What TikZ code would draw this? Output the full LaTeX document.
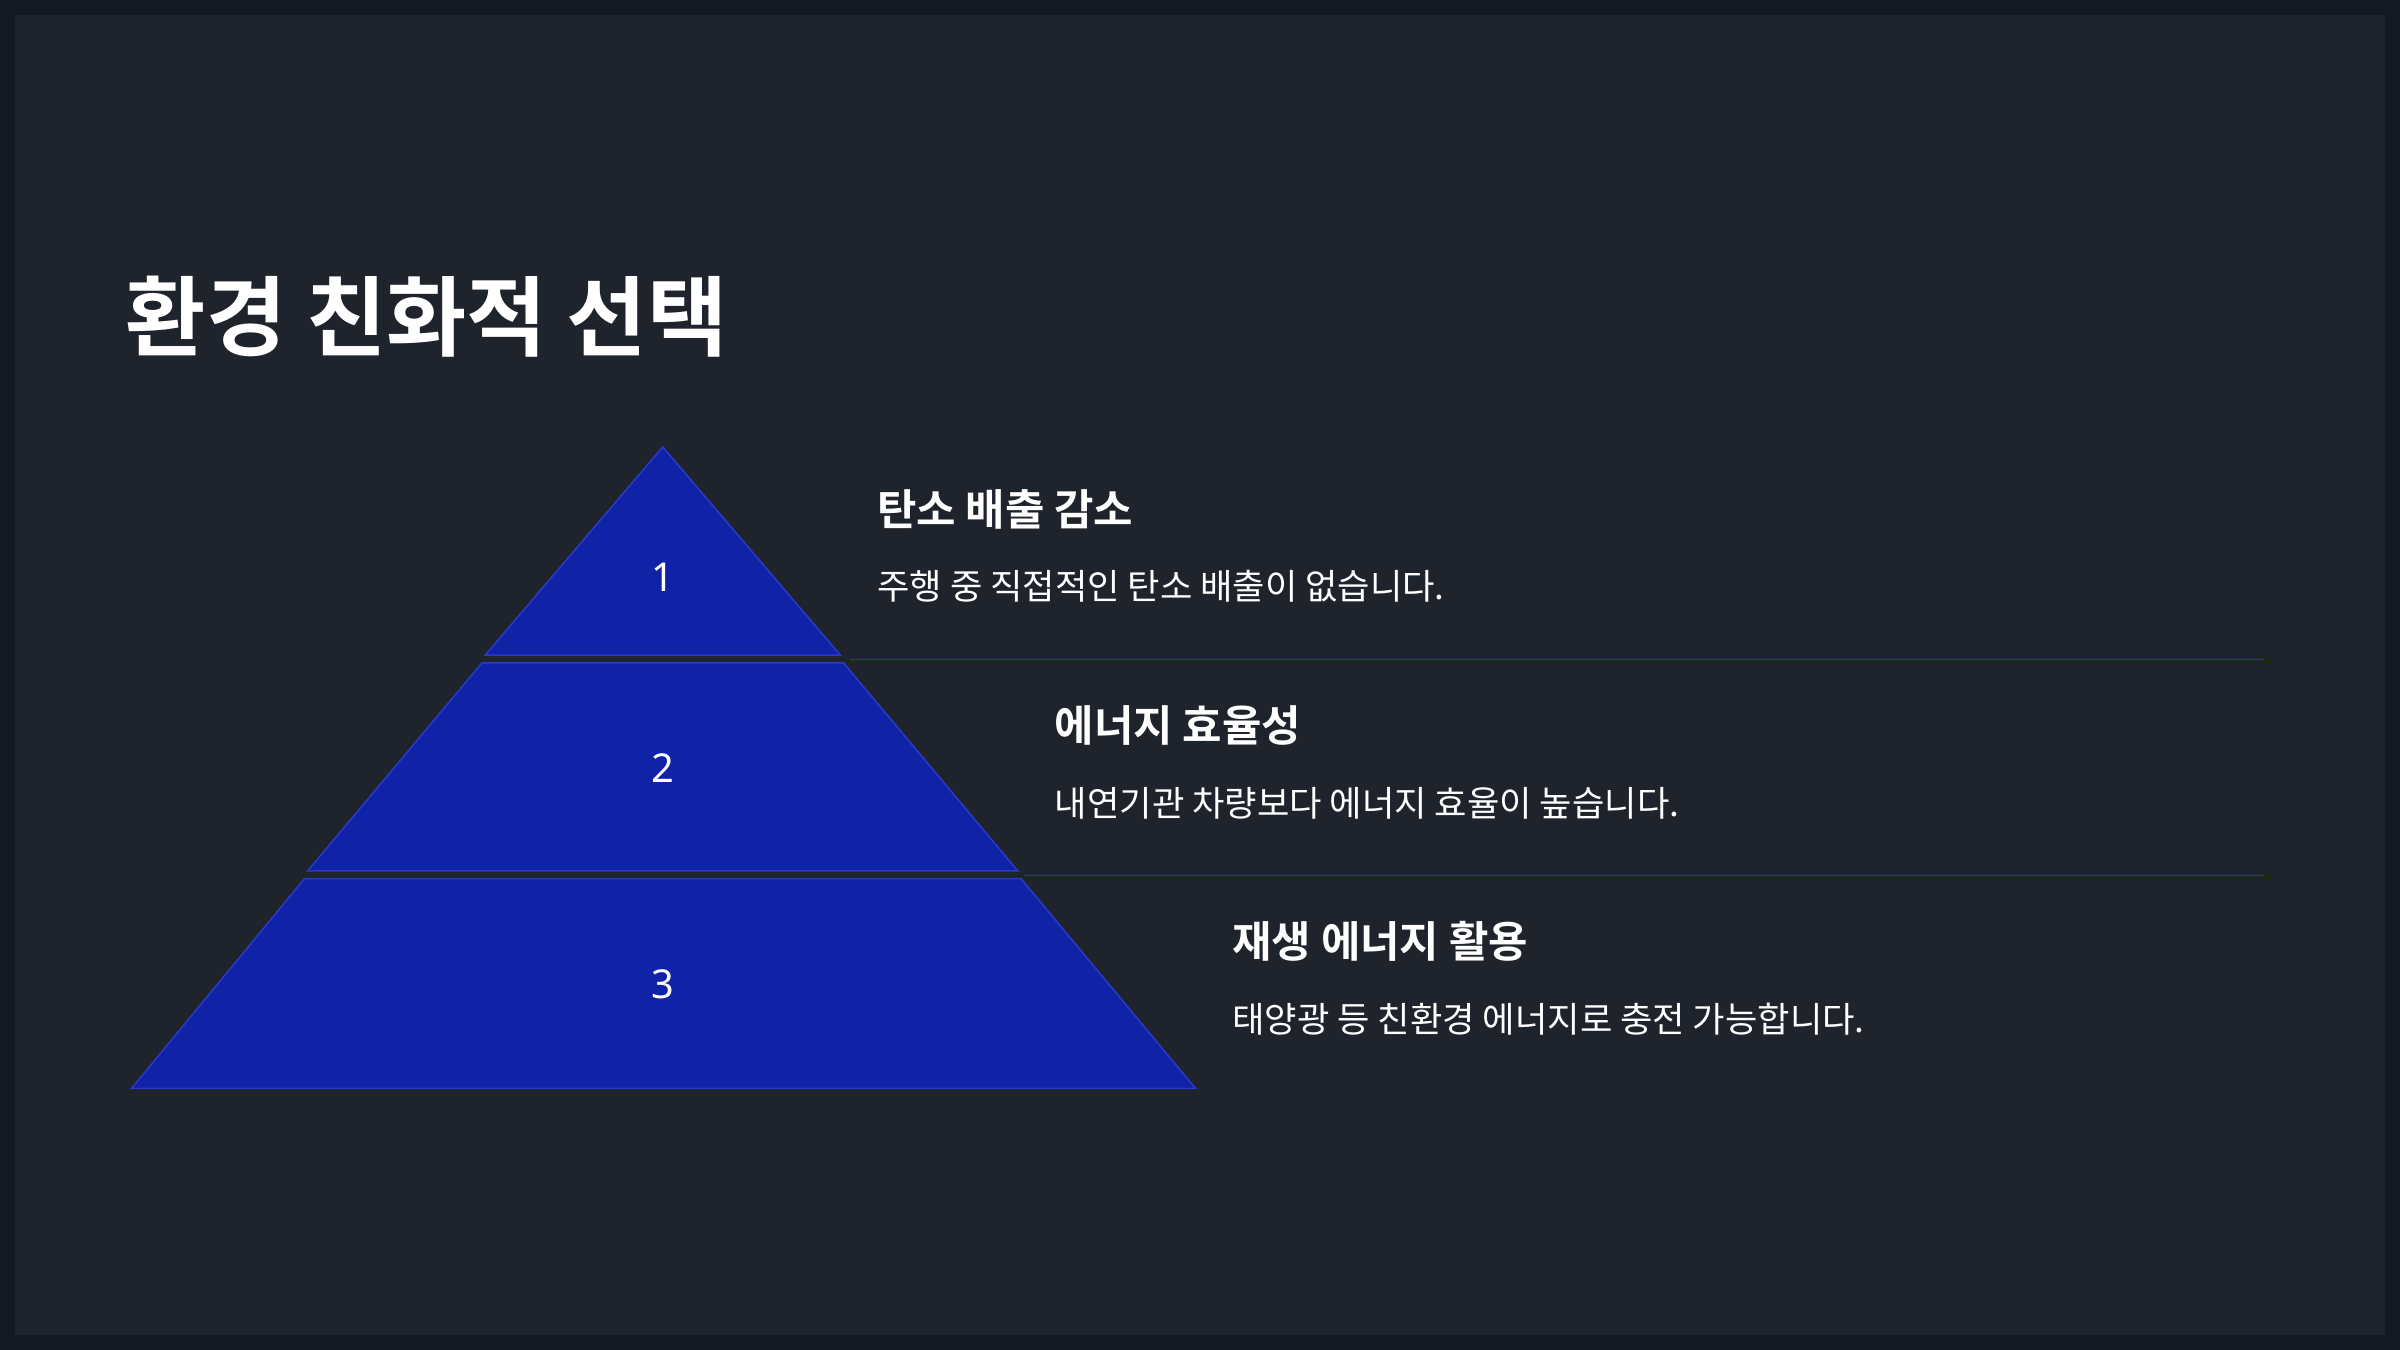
\documentclass[tikz,border=0pt]{standalone}
\usepackage{fontspec}
\setmainfont{Noto Sans CJK KR}
\newfontfamily\krb{Noto Sans CJK KR Bold}
\newfontfamily\numf{Noto Sans}
\definecolor{outerbg}{HTML}{141821}
\definecolor{innerbg}{HTML}{1F232B}
\definecolor{tierfill}{HTML}{1022A6}
\definecolor{tieredge}{HTML}{2A3AC8}
\definecolor{rule}{HTML}{2030C0}
\begin{document}
\begin{tikzpicture}[x=1pt,y=-1pt,
  tier/.style={fill=tierfill,draw=tieredge,line width=1pt},
  num/.style={text=white,font=\numf\bfseries\fontsize{26}{30}\selectfont},
  head/.style={anchor=west,text=white,font=\krb\fontsize{28}{32}\selectfont,inner sep=0},
  body/.style={anchor=west,text=white,font=\fontsize{23}{27}\selectfont,inner sep=0},
  sep/.style={draw=rule,line width=1pt}]
\fill[outerbg] (0,0) rectangle (1568,882);
\useasboundingbox (0,0) rectangle (1568,882);
\fill[innerbg] (10,10) rectangle (1558,872);
\node[anchor=west,text=white,font=\krb\fontsize{57}{64}\selectfont,inner sep=0] (title) at (82,207) {환경 친화적 선택};
\draw[tier] (433,292) -- (549,428) -- (317,428) -- cycle;
\draw[tier] (315,433) -- (551,433) -- (665,569) -- (201,569) -- cycle;
\draw[tier] (199,574) -- (667,574) -- (781,711) -- (86,711) -- cycle;
\node[num] (n1) at (433,377) {1};
\node[num] (n2) at (433,502) {2};
\node[num] (n3) at (433,643) {3};
\coordinate (l1a) at (555,431); \coordinate (l1b) at (1479,431);
\coordinate (l2a) at (669,572); \coordinate (l2b) at (1479,572);
\draw[sep] (l1a) -- (l1b);
\draw[sep] (l2a) -- (l2b);
\node[head] (h1) at (573,333) {탄소 배출 감소};
\node[body] (b1) at (573,383) {주행 중 직접적인 탄소 배출이 없습니다.};
\node[head] (h2) at (689,474) {에너지 효율성};
\node[body] (b2) at (689,525) {내연기관 차량보다 에너지 효율이 높습니다.};
\node[head] (h3) at (805,615) {재생 에너지 활용};
\node[body] (b3) at (805,666) {태양광 등 친환경 에너지로 충전 가능합니다.};
\end{tikzpicture}
\end{document}
